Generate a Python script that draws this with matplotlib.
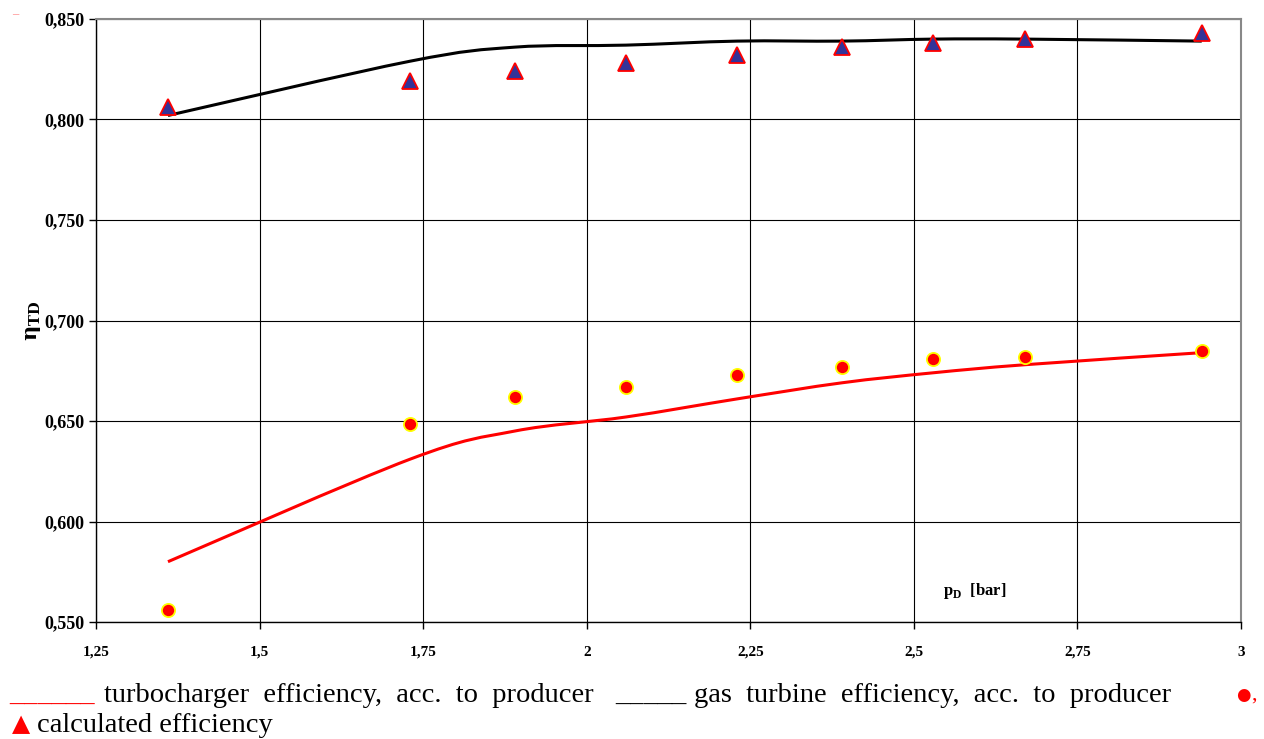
import matplotlib
matplotlib.use("Agg")
import matplotlib.pyplot as plt
import numpy as np
from matplotlib.path import Path
from matplotlib.patches import PathPatch
from matplotlib.ticker import FixedLocator, FuncFormatter

# ---- data ----
p_d = [1.36, 1.73, 1.89, 2.06, 2.23, 2.39, 2.53, 2.67, 2.94]
calc_gas_turbine = [0.806, 0.819, 0.824, 0.828, 0.832, 0.836, 0.838, 0.840, 0.843]
calc_turbocharger = [0.556, 0.6485, 0.662, 0.667, 0.673, 0.677, 0.681, 0.682, 0.685]
producer_gas_turbine = [0.802, 0.829, 0.836, 0.837, 0.839, 0.839, 0.840, 0.840, 0.839]
producer_turbocharger = [0.580, 0.631, 0.645, 0.652, 0.661, 0.669, 0.674, 0.678, 0.684]
x_ticks = [1.25, 1.5, 1.75, 2.0, 2.25, 2.5, 2.75, 3.0]
y_ticks = [0.550, 0.600, 0.650, 0.700, 0.750, 0.800, 0.850]

W, H = 1264, 739
fig = plt.figure(figsize=(W / 100, H / 100), dpi=100)
ax = fig.add_axes([96 / W, 1 - 622 / H, (1241 - 96) / W, (622 - 19) / H])


def smooth_line(ax, xs, ys, color, lw):
    """Excel-style smoothed line: cubic Bezier segments through the data."""
    pts = np.column_stack([xs, ys]).astype(float)
    n = len(pts)
    verts = [pts[0]]
    codes = [Path.MOVETO]
    for i in range(n - 1):
        p0 = pts[max(i - 1, 0)]
        p1 = pts[i]
        p2 = pts[i + 1]
        p3 = pts[min(i + 2, n - 1)]
        c1 = p1 + (p2 - p0) / 6.0
        c2 = p2 - (p3 - p1) / 6.0
        verts += [c1, c2, p2]
        codes += [Path.CURVE4] * 3
    patch = PathPatch(Path(verts, codes), fill=False, edgecolor=color, lw=lw,
                      zorder=3, capstyle="butt", joinstyle="round")
    ax.add_patch(patch)


smooth_line(ax, p_d, producer_gas_turbine, "black", 2.2)
smooth_line(ax, p_d, producer_turbocharger, "#ff0000", 2.2)
ax.plot(p_d, calc_gas_turbine, ls="none", marker="^", ms=11, mfc="#333399",
        mec="#ff0000", mew=1.3, zorder=4)
ax.plot(p_d, calc_turbocharger, ls="none", marker="o", ms=9.5, mfc="#ff0000",
        mec="#ffff00", mew=1.3, zorder=4)

ax.set_xlim(1.25, 3.0)
ax.set_ylim(0.550, 0.850)
ax.xaxis.set_major_locator(FixedLocator(x_ticks))
ax.yaxis.set_major_locator(FixedLocator(y_ticks))


def fmt_x(v, pos):
    return f"{v:g}".replace(".", ",")


def fmt_y(v, pos):
    return f"{v:.3f}".replace(".", ",")


ax.xaxis.set_major_formatter(FuncFormatter(fmt_x))
ax.yaxis.set_major_formatter(FuncFormatter(fmt_y))
ax.grid(True, color="black", lw=0.8)
ax.set_axisbelow(True)
for s in ["top", "right"]:
    ax.spines[s].set_color("#888888")
    ax.spines[s].set_linewidth(1.5)
for s in ["left", "bottom"]:
    ax.spines[s].set_color("black")
    ax.spines[s].set_linewidth(1.0)
ax.tick_params(direction="out", length=5, width=1, color="black")
for lab in ax.get_yticklabels():
    lab.set_fontfamily("Liberation Serif")
    lab.set_fontweight("bold")
    lab.set_fontsize(13)
for lab in ax.get_xticklabels():
    lab.set_fontfamily("Liberation Serif")
    lab.set_fontweight("bold")
    lab.set_fontsize(11)
ax.tick_params(axis="x", pad=12)

ax.set_ylabel(r"η$_{\mathregular{TD}}$", fontsize=15, fontfamily="DejaVu Serif",
              fontweight="bold", labelpad=1)
ax.text(2.545, 0.5635, r"p$_{\mathregular{D}}$  [bar]", fontsize=12,
        fontfamily="Liberation Serif", fontweight="bold")

# ---- legend text below the chart ----
fs = 20.5
ser = ["Liberation Serif", "DejaVu Sans"]


def ftxt(px, py, s, **kw):
    fig.text(px / W, 1 - py / H, s, fontsize=kw.pop("fontsize", fs),
             family=kw.pop("family", ser), va="baseline", ha="left", **kw)


ftxt(9, 702, "______", color="#ff0000")
ftxt(104, 702, "turbocharger  efficiency,  acc.  to  producer")
ftxt(615, 702, "_____", color="black")
ftxt(694, 702, "gas  turbine  efficiency,  acc.  to  producer")
ftxt(1236, 700, "●", color="#ff0000", family=["DejaVu Sans"], fontsize=12)
ftxt(1251, 700, ",", color="#ff0000", fontsize=16)
ftxt(12, 731, "▲", color="#ff0000", family=["DejaVu Sans"], fontsize=17)
ftxt(37, 732, "calculated efficiency")
ftxt(12, 17, "–", color="#ff8080", fontsize=9)

fig.savefig("out.png", dpi=100, facecolor="white")
